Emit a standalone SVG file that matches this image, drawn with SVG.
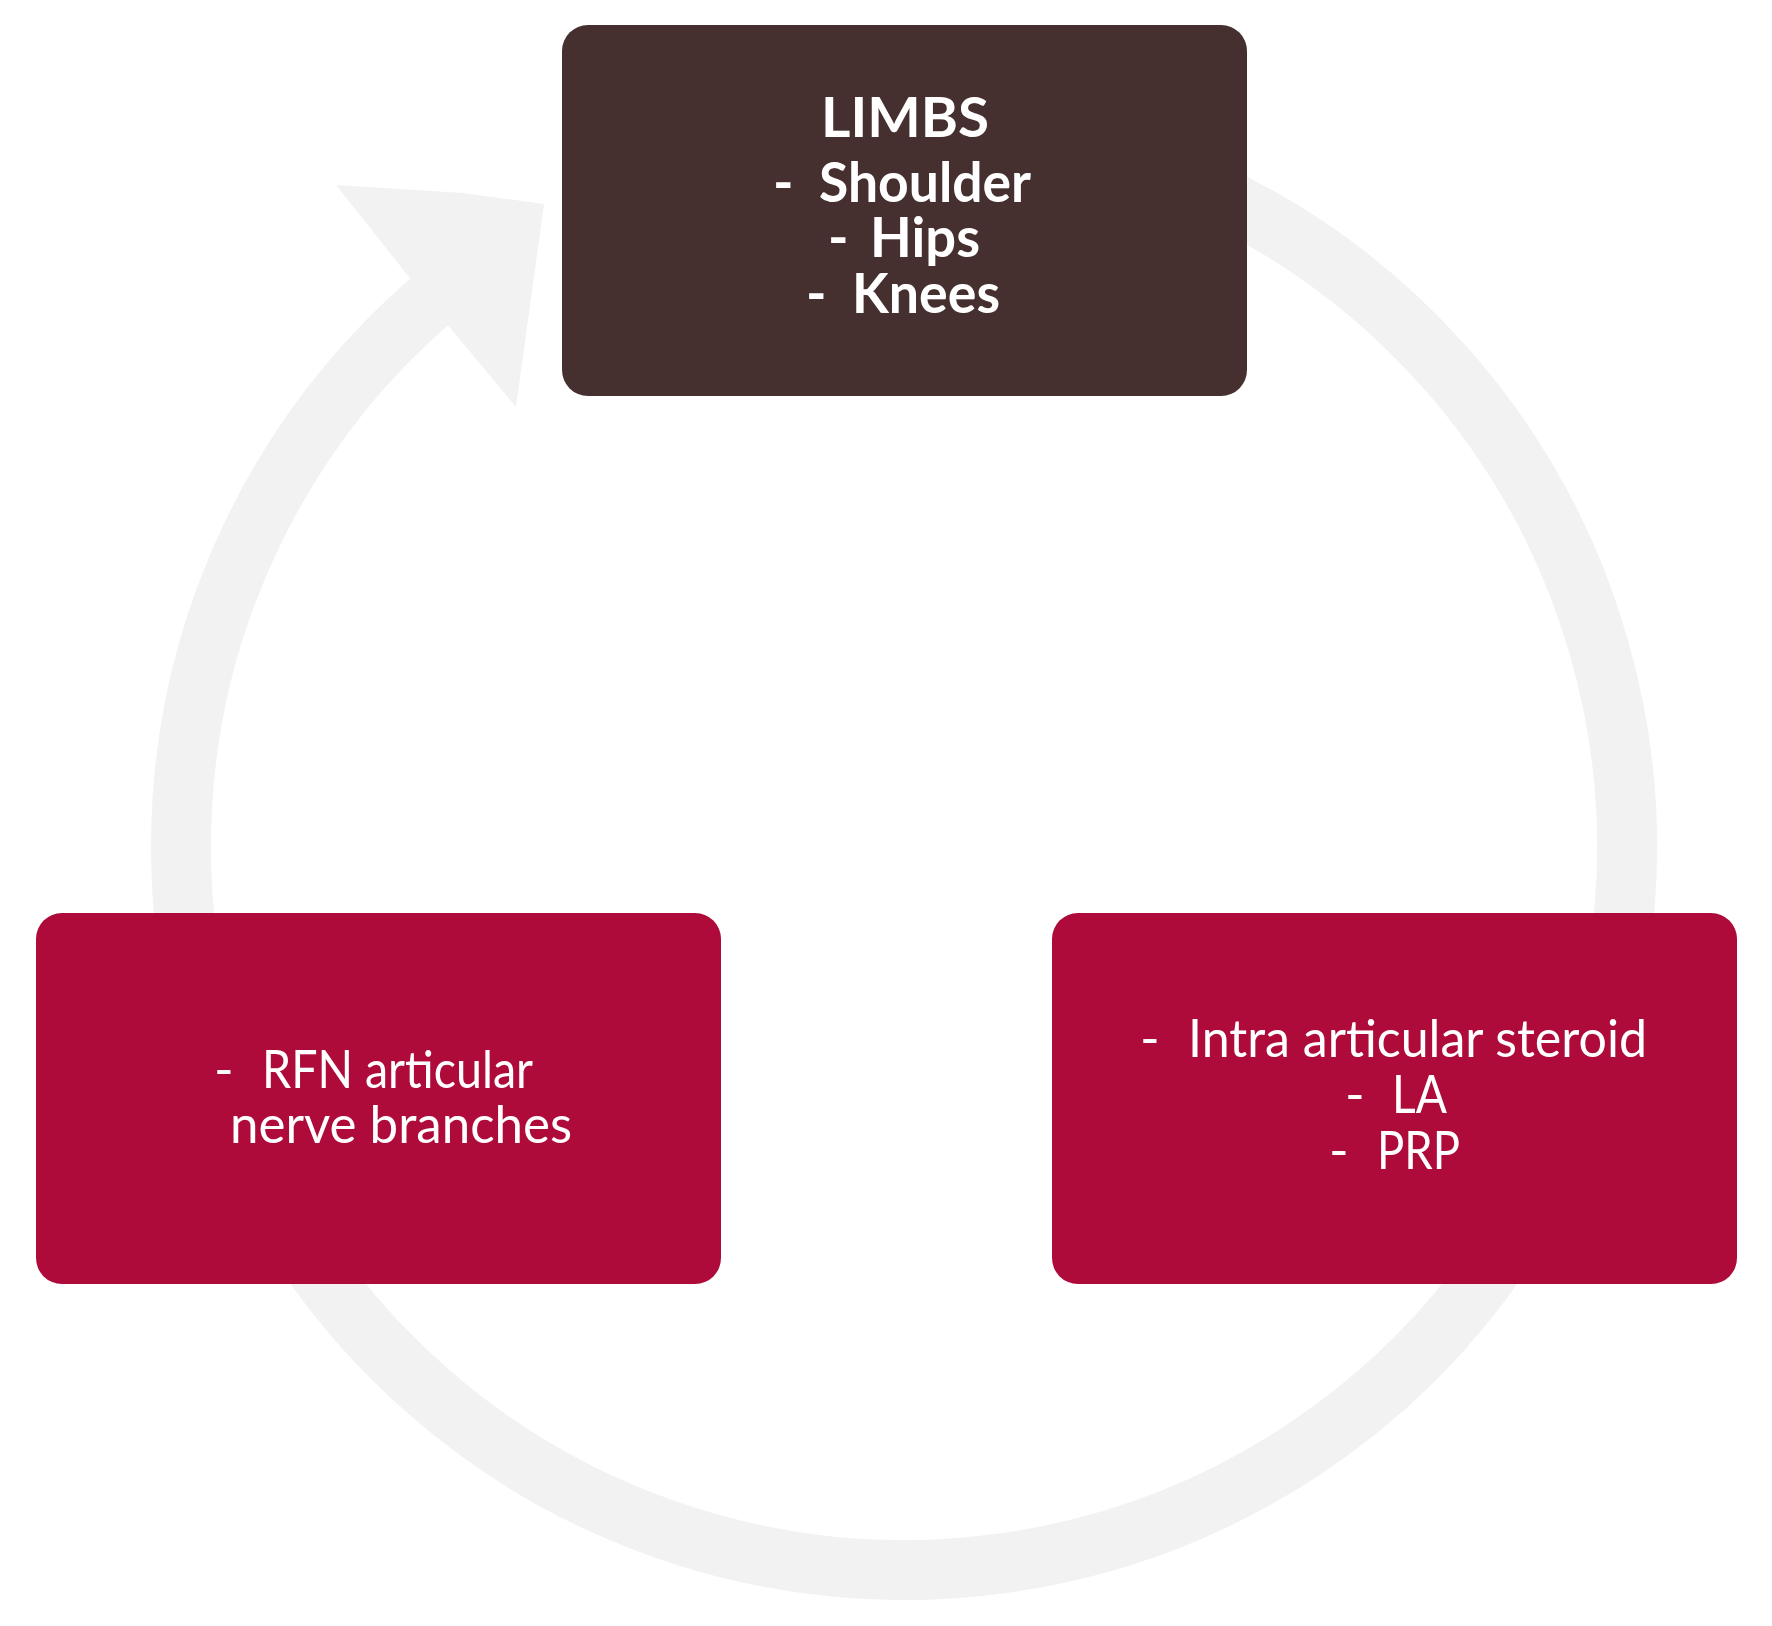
<svg xmlns="http://www.w3.org/2000/svg" width="1772" height="1626" viewBox="0 0 1772 1626">
  <style>
    .ring { fill: none; stroke: #F2F2F2; stroke-width: 60; }
    .head { fill: #F2F2F2; }
    .top { fill: #452F2F; }
    .red { fill: #AE0A3A; }
    .tb { font-family: Lato, "Noto Sans", "Liberation Sans", sans-serif; font-weight: bold; font-size: 55px; fill: #FFFFFF; }
    .tr { font-family: Lato, "Noto Sans", "Liberation Sans", sans-serif; font-weight: normal; font-size: 53px; fill: #FFFFFF; }
  </style>
  <rect width="1772" height="1626" fill="#FFFFFF"/>
  <g id="connectors">
    <path class="ring" d="M 1209.5 191.7 A 723 723 0 1 1 429.7 301.3"/>
    <polygon class="head" points="336,185 463,193 544,204 516,407 446,323 409,277"/>
  </g>
  <g id="node-limbs">
    <rect class="top" x="562" y="25" width="685" height="371" rx="26" ry="26"/>
    <text class="tb" x="821" y="137" textLength="168" lengthAdjust="spacingAndGlyphs">LIMBS</text>
    <text class="tb"><tspan x="773" y="202">-</tspan><tspan x="819" y="202" textLength="212" lengthAdjust="spacingAndGlyphs">Shoulder</tspan></text>
    <text class="tb"><tspan x="828" y="257">-</tspan><tspan x="870" y="257" textLength="110" lengthAdjust="spacingAndGlyphs">Hips</tspan></text>
    <text class="tb"><tspan x="806" y="313">-</tspan><tspan x="852" y="313" textLength="148" lengthAdjust="spacingAndGlyphs">Knees</tspan></text>
  </g>
  <g id="node-rfn">
    <rect class="red" x="36" y="913" width="685" height="371" rx="26" ry="26"/>
    <text class="tr"><tspan x="214" y="1088">-</tspan><tspan x="262" y="1088" textLength="271" lengthAdjust="spacingAndGlyphs">RFN articular</tspan></text>
    <text class="tr" x="230" y="1143" textLength="342" lengthAdjust="spacingAndGlyphs">nerve branches</text>
  </g>
  <g id="node-injections">
    <rect class="red" x="1052" y="913" width="685" height="371" rx="26" ry="26"/>
    <text class="tr"><tspan x="1140" y="1057">-</tspan><tspan x="1188" y="1057" textLength="459" lengthAdjust="spacingAndGlyphs">Intra articular steroid</tspan></text>
    <text class="tr"><tspan x="1345" y="1113">-</tspan><tspan x="1392" y="1113" textLength="55" lengthAdjust="spacingAndGlyphs">LA</tspan></text>
    <text class="tr"><tspan x="1329" y="1169">-</tspan><tspan x="1377" y="1169" textLength="83" lengthAdjust="spacingAndGlyphs">PRP</tspan></text>
  </g>
</svg>
